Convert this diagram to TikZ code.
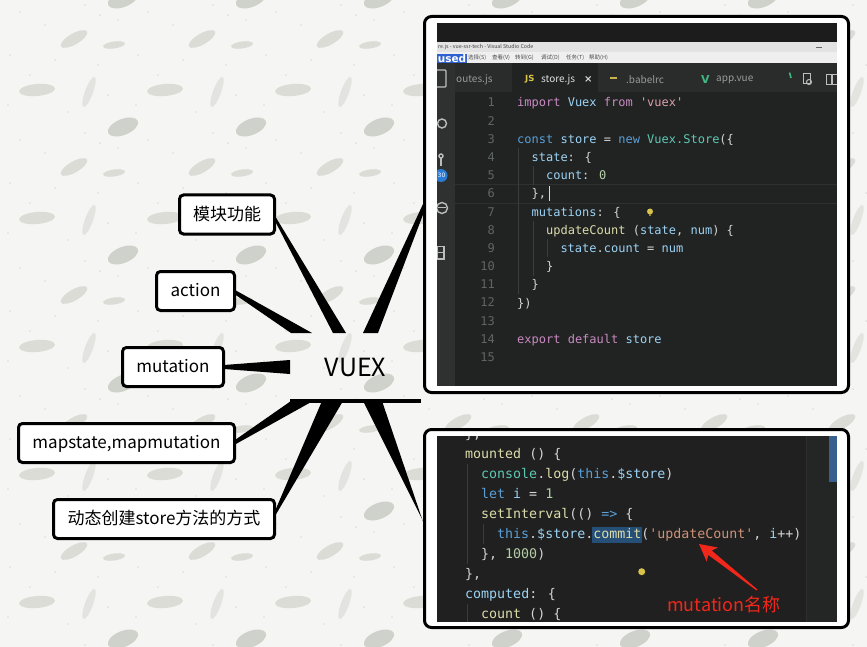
\documentclass[tikz,border=0pt]{standalone}
\usepackage{fontspec}
\setmainfont{Noto Sans CJK SC}
\newfontfamily\codefont{DejaVu Sans Mono}
\newfontfamily\boldui{DejaVu Sans}
\usetikzlibrary{calc}
\definecolor{bgc}{HTML}{F5F5F3}
\definecolor{leafa}{HTML}{DADCD5}
\definecolor{leafb}{HTML}{E3E4DF}
\definecolor{leafc}{HTML}{CFD2CA}
\definecolor{dotc}{HTML}{BDBDB5}
\definecolor{c1top}{HTML}{1C1C1C}
\definecolor{c1title}{HTML}{E3E3E3}
\definecolor{c1menu}{HTML}{EFEFEF}
\definecolor{c1tabs}{HTML}{2A2B2B}
\definecolor{c1edit}{HTML}{212322}
\definecolor{c1act}{HTML}{2F3130}
\definecolor{c1line}{HTML}{2D302F}
\definecolor{guidec}{HTML}{3A3D3C}
\definecolor{iconc}{HTML}{BDBDBD}
\definecolor{badge}{HTML}{2A7BD4}
\definecolor{usedc}{HTML}{2F62D0}
\definecolor{jsy}{HTML}{D9C54A}
\definecolor{babely}{HTML}{C9B24A}
\definecolor{vueg}{HTML}{41B883}
\definecolor{tabc}{HTML}{9A9A9A}
\definecolor{lnc}{HTML}{5F6563}
\definecolor{cpu}{HTML}{D4D4D4}
\definecolor{ckw}{HTML}{C98AC3}
\definecolor{cbl}{HTML}{5A9FD8}
\definecolor{cid}{HTML}{9CD3F5}
\definecolor{cty}{HTML}{5EC8B4}
\definecolor{cfn}{HTML}{DCDCAA}
\definecolor{cnum}{HTML}{B5CEA8}
\definecolor{cstrA}{HTML}{D8A0A8}
\definecolor{cstr}{HTML}{CE9178}
\definecolor{c2edit}{HTML}{1F201F}
\definecolor{c2side}{HTML}{242525}
\definecolor{c2sep}{HTML}{2E2F2F}
\definecolor{scrollc}{HTML}{37608F}
\definecolor{hlc}{HTML}{264F78}
\definecolor{bulbc}{HTML}{D8C24A}
\definecolor{redc}{HTML}{F2271C}
\newcommand\Ckw[1]{\textcolor{ckw}{#1}}
\newcommand\Cbl[1]{\textcolor{cbl}{#1}}
\newcommand\Cid[1]{\textcolor{cid}{#1}}
\newcommand\Cty[1]{\textcolor{cty}{#1}}
\newcommand\Cfn[1]{\textcolor{cfn}{#1}}
\newcommand\Cnum[1]{\textcolor{cnum}{#1}}
\newcommand\CstrA[1]{\textcolor{cstrA}{#1}}
\newcommand\Cstr[1]{\textcolor{cstr}{#1}}
\newcommand\Q{\textquotesingle}
\begin{document}
\begin{tikzpicture}[x=1pt,y=-1pt,
  topic/.style={draw=black,line width=3pt,fill=white,rounded corners=4pt,minimum height=39pt,inner sep=0pt,text height=13pt,text depth=2pt,font=\fontsize{17}{20}\selectfont},
  frame/.style={draw=black,line width=3pt,fill=white,rounded corners=7pt,inner sep=0pt},
  wedge/.style={fill=black},
  codeA/.style={anchor=base west,inner sep=0pt,text=cpu,font=\codefont\fontsize{12}{14}\selectfont},
  codeB/.style={anchor=base west,inner sep=0pt,text=cpu,font=\codefont\fontsize{13.3}{16}\selectfont},
  lnum/.style={anchor=base east,inner sep=0pt,text=lnc,font=\codefont\fontsize{12}{14}\selectfont},
  tabt/.style={anchor=west,inner sep=0pt,text=tabc,font=\fontsize{10}{12}\selectfont},
  menut/.style={anchor=west,inner sep=0pt,text=black!70,font=\fontsize{5.5}{6}\selectfont},
  guide/.style={draw=guidec,line width=0.8pt},
  icon/.style={draw=iconc,line width=1.4pt}]
\fill[bgc] (0,0) rectangle (867,647);
\useasboundingbox (0,0) rectangle (867,647);
% background pattern
\foreach \i in {0,...,6}{
 \foreach \j in {-1,0,...,5}{
  \begin{scope}[shift={(128*\i,128*\j)}]
   \fill[leafa,rotate around={5:(37,90)}] (37,90) ellipse [x radius=18pt,y radius=6pt];
   \fill[leafb,rotate around={70:(89,92)}] (89,92) ellipse [x radius=16pt,y radius=4pt];
   \fill[leafa,rotate around={30:(74,39)}] (74,39) ellipse [x radius=15pt,y radius=5.5pt];
   \fill[leafa,rotate around={8:(114,45)}] (114,45) ellipse [x radius=11pt,y radius=3.5pt];
   \fill[leafc,rotate around={22:(123,127)}] (123,127) ellipse [x radius=16pt,y radius=8pt];
   \foreach \dx/\dy in {20/12,45/25,100/15,10/55,55/60,98/65,8/105,68/112,108/95,30/75,118/20,85/5}
     \fill[dotc] (\dx,\dy) circle [radius=0.7pt];
  \end{scope}}}
% screenshot frames
\node[frame,minimum width=424pt,minimum height=376pt] (sh1) at (636.5,204.5) {};
\node[frame,minimum width=424pt,minimum height=198pt] (sh2) at (636.5,528.5) {};
% screenshot 1
\begin{scope}
\clip (437,23) rectangle (837,386);
\fill[c1top] (437,23) rectangle (837,42);
\fill[c1title] (437,42) rectangle (837,52.5);
\fill[c1menu] (437,52.5) rectangle (837,63.5);
\fill[c1tabs] (437,63.5) rectangle (837,92);
\fill[c1edit] (512,63.5) rectangle (598,92);
\fill[c1act] (437,63.5) rectangle (455,386);
\fill[c1edit] (455,92) rectangle (837,386);
\draw[c1line] (455,184) -- (837,184);
\draw[c1line] (455,203) -- (837,203);
\node[anchor=west,inner sep=0pt,text=black!75,font=\fontsize{5.3}{6}\selectfont] (ttl) at (438,47.3) {re.js - vue-ssr-tech - Visual Studio Code};
\draw[black!60,line width=0.8pt] (816,47) -- (822,47);
\node[anchor=west,inner sep=0.6pt,fill=usedc,text=white,font=\boldui\bfseries\fontsize{10.5}{11}\selectfont] (used) at (437,58.2) {used};
\node[menut] (mn1) at (468,58) {选择(S)};
\node[menut] (mn2) at (492,58) {查看(V)};
\node[menut] (mn3) at (515,58) {转到(G)};
\node[menut] (mn4) at (541,58) {调试(D)};
\node[menut] (mn5) at (566,58) {任务(T)};
\node[menut] (mn6) at (589,58) {帮助(H)};
\node[tabt] (t1) at (456,80) {outes.js};
\node[anchor=west,inner sep=0pt,text=jsy,font=\boldui\bfseries\fontsize{8.5}{9}\selectfont] (t2i) at (525,79) {JS};
\node[tabt,text=white!88!black] (t2) at (541,80) {store.js};
\node[anchor=west,inner sep=0pt,text=white!85!black,font=\boldui\bfseries\fontsize{10}{10}\selectfont] (t2x) at (584,79.5) {×};
\fill[babely] (610,77.5) rectangle (617,79.5);
\node[tabt] (t3) at (626,80) {.babelrc};
\node[anchor=west,inner sep=0pt,text=vueg,font=\boldui\bfseries\fontsize{11}{12}\selectfont] (t4i) at (701,79.5) {V};
\node[tabt] (t4) at (716,80) {app.vue};
\draw[vueg,line width=1.6pt] (789.5,72.5) -- (791,78);
\draw[iconc,line width=1pt] (803,74) rectangle (810,84);
\draw[iconc,line width=1pt] (809,82) circle [radius=2.5pt];
\draw[iconc,line width=1.1pt] (826.5,74.5) rectangle (837.5,84.5);
\draw[iconc,line width=1.1pt] (832,74.5) -- (832,84.5);
% activity bar icons
\draw[icon,rounded corners=1pt] (435,70) rectangle (446,87);
\draw[icon] (442,123.5) circle [radius=4.5pt];
\draw[icon] (441,156) circle [radius=2pt];
\draw[icon] (441,158) -- (441,166);
\fill[badge] (441,175.5) circle [radius=6.5pt];
\node[text=white,font=\boldui\fontsize{6}{6}\selectfont,inner sep=0pt] (bdg) at (441.5,175.5) {30};
\draw[icon] (442,208) circle [radius=5.5pt];
\draw[iconc,line width=1pt] (438,208) -- (446,208);
\draw[icon] (437,246.5) rectangle (444,259);
\draw[iconc,line width=1pt] (437,252.5) -- (444,252.5);
% guides
\draw[guide] (518.5,148.2) -- (518.5,293.7);
\draw[guide] (533,166.4) -- (533,184.6);
\draw[guide] (533,220.9) -- (533,275.5);
\draw[guide] (547.5,239.1) -- (547.5,257.3);
% line numbers
\foreach \n in {1,...,15}{\node[lnum] (ln\n) at (495,{106.9+18.19*(\n-1)}) {\n};}
% code
\node[codeA] (a1) at (517,106.9) {\Ckw{import} \Cid{Vuex} \Ckw{from} \CstrA{\Q vuex\Q}};
\node[codeA] (a3) at (517,143.3) {\Cbl{const} \Cid{store} = \Cbl{new} \Cty{Vuex.Store}(\{};
\node[codeA] (a4) at (531.4,161.5) {\Cid{state}: \{};
\node[codeA] (a5) at (545.9,179.7) {\Cid{count}: \Cnum{0}};
\node[codeA] (a6) at (531.4,197.9) {\},};
\node[codeA] (a7) at (531.4,216.0) {\Cid{mutations}: \{};
\node[codeA] (a8) at (545.9,234.2) {\Cfn{updateCount} (\Cid{state}, \Cid{num}) \{};
\node[codeA] (a9) at (560.3,252.4) {\Cid{state}.\Cid{count} = \Cid{num}};
\node[codeA] (a10) at (545.9,270.6) {\}};
\node[codeA] (a11) at (531.4,288.8) {\}};
\node[codeA] (a12) at (517,307.0) {\})};
\node[codeA] (a14) at (517,343.4) {\Ckw{export} \Ckw{default} \Cid{store}};
\draw[white!85!black,line width=1pt] (549,186) -- (549,201);
\fill[bulbc] (650,211.5) circle [radius=3pt];
\fill[bulbc!70!black] (649,214.5) rectangle (651,216);
\end{scope}
% screenshot 2
\begin{scope}
\clip (437,436) rectangle (837,622);
\fill[c2edit] (437,436) rectangle (837,622);
\fill[c2side] (806,436) rectangle (837,622);
\draw[c2sep] (806,436) -- (806,622);
\fill[scrollc] (829,436) rectangle (837,482);
\draw[guide] (467.5,464.3) -- (467.5,564.3);
\draw[guide] (483.5,524.3) -- (483.5,544.3);
\draw[guide] (467.5,604.3) -- (467.5,622);
\fill[hlc] (592,526.5) rectangle (641.5,543);
\node[codeB] (b0) at (465,438.9) {\},};
\node[codeB] (b1) at (465,458.9) {\Cfn{mounted} () \{};
\node[codeB] (b2) at (481,478.9) {\Cty{console}.\Cfn{log}(\Cbl{this}.\Cid{\$store})};
\node[codeB] (b3) at (481,498.9) {\Cbl{let} \Cid{i} = \Cnum{1}};
\node[codeB] (b4) at (481,518.9) {\Cfn{setInterval}(() \Cbl{=>} \{};
\node[codeB] (b5) at (497,538.9) {\Cbl{this}.\Cid{\$store}.\Cfn{commit}(\Cstr{\Q updateCount\Q}, \Cid{i}++)};
\node[codeB] (b6) at (481,558.9) {\}, \Cnum{1000})};
\node[codeB] (b7) at (465,578.9) {\},};
\node[codeB] (b8) at (465,598.9) {\Cid{computed}: \{};
\node[codeB] (b9) at (481,618.9) {\Cfn{count} () \{};
\fill[bulbc] (641.7,571.7) circle [radius=3.5pt];
\end{scope}
% topics
\node[topic,minimum width=95pt] (m1) at (227,214.5) {模块功能};
\node[topic,minimum width=78pt] (m2) at (195.5,291) {action};
\node[topic,minimum width=101pt] (m3) at (173,367) {mutation};
\node[topic,minimum width=216pt] (m4) at (126.5,443) {mapstate,mapmutation};
\node[topic,minimum width=221pt] (m5) at (164,519) {动态创建store方法的方式};
\node[inner sep=0pt,outer sep=0pt,minimum width=131pt,minimum height=68pt,font=\fontsize{25}{30}\selectfont] (vx) at (355.5,367) {VUEX};
% tapered connectors
\fill[wedge] ($(m1.east)+(-1,1.5)$) -- ($(vx.north west)+(56,0)$) -- ($(vx.north west)+(43,0)$) -- ($(m1.east)+(-1,6.5)$) -- cycle;
\fill[wedge] ($(m2.east)+(-1,-1)$) -- ($(vx.north west)+(22,0)$) -- ($(vx.north west)+(1,0)$) -- ($(m2.east)+(-1,3.5)$) -- cycle;
\fill[wedge] ($(m3.east)+(-1,-2)$) -- ($(vx.north west)+(0,27)$) -- ($(vx.north west)+(0,41)$) -- ($(m3.east)+(-1,2)$) -- cycle;
\fill[wedge] ($(m4.east)+(-1,-3)$) -- ($(vx.south west)+(1,0)$) -- ($(vx.south west)+(23,0)$) -- ($(m4.east)+(-1,1.5)$) -- cycle;
\fill[wedge] ($(m5.east)+(-1,-8)$) -- ($(vx.south west)+(32,0)$) -- ($(vx.south west)+(53,0)$) -- ($(m5.east)+(-1,-3)$) -- cycle;
\fill[wedge] ($(vx.north west)+(73,0)$) -- ($(sh1.west)+(0.5,-1.5)$) -- ($(sh1.west)+(2.5,3.5)$) -- ($(vx.north west)+(88,0)$) -- cycle;
\fill[wedge] ($(vx.south west)+(73,0)$) -- ($(sh2.west)+(0.5,-6.5)$) -- ($(sh2.west)+(2.5,0.5)$) -- ($(vx.south west)+(92,0)$) -- cycle;
\draw[line width=3.5pt] (vx.south west) -- (vx.south east);
% annotation
\node[text=redc,inner sep=0pt,font=\fontsize{18}{20}\selectfont] (lbl) at (724,604.5) {mutation名称};
\fill[redc] (699,544) -- (717.9,547.5) -- (711.7,550.5) -- (757.4,589.5) -- (756.6,590.5) -- (708.2,554.9) -- (706.7,561.6) -- cycle;
\end{tikzpicture}
\end{document}
